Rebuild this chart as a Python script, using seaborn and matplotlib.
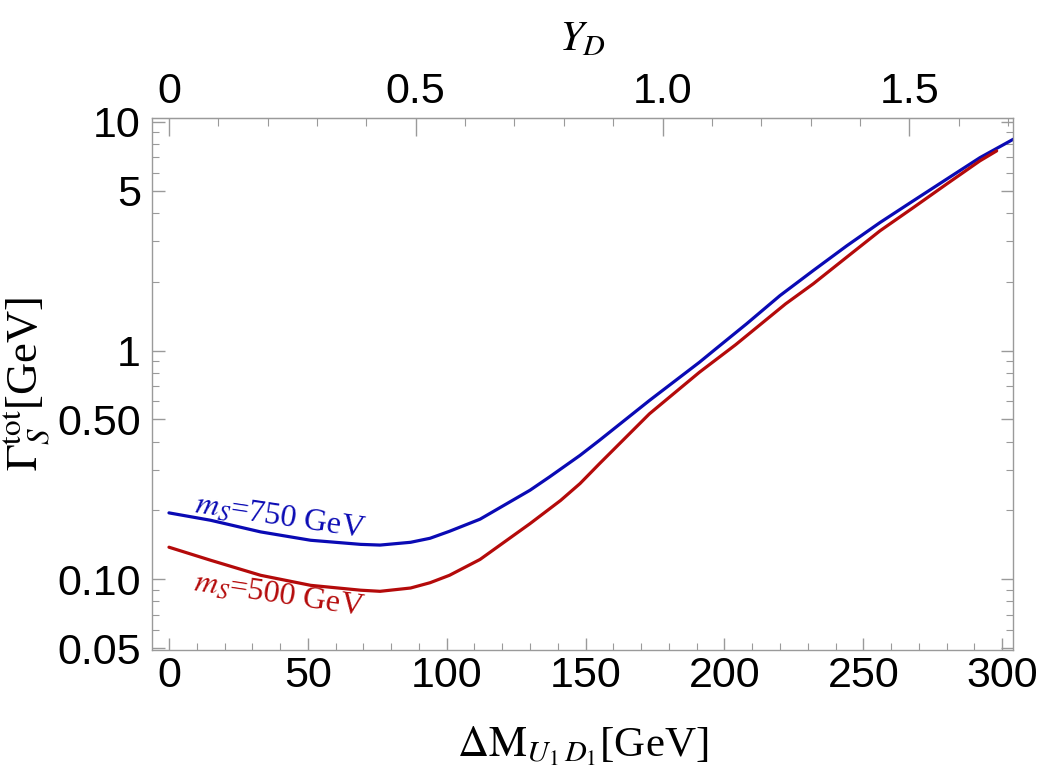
import matplotlib
matplotlib.use("Agg")
import matplotlib.pyplot as plt
import matplotlib.ticker as mticker
import seaborn as sns
import pandas as pd

# Delta M_{U1 D1} [GeV] and total width [GeV]
x_750 = [0, 15, 33, 51, 69, 76, 87, 94, 101, 112, 130, 137, 148, 155, 173,
         191, 197, 208, 220, 232, 244, 256, 268, 280, 292, 304]
w_750 = [0.195, 0.181, 0.161, 0.148, 0.142, 0.141, 0.145, 0.151, 0.162,
         0.183, 0.245, 0.280, 0.348, 0.405, 0.605, 0.889, 1.02, 1.31, 1.74,
         2.24, 2.87, 3.63, 4.52, 5.62, 6.98, 8.40]

x_500 = [0, 15, 33, 51, 69, 76, 87, 94, 101, 112, 130, 141, 148, 155, 173,
         191, 204, 222, 232, 244, 256, 268, 280, 292, 298]
w_500 = [0.138, 0.121, 0.104, 0.094, 0.0895, 0.0885, 0.0915, 0.0965, 0.104,
         0.122, 0.175, 0.221, 0.262, 0.320, 0.529, 0.804, 1.06, 1.60, 1.96,
         2.56, 3.34, 4.22, 5.35, 6.76, 7.47]

y_ticks = [0.05, 0.1, 0.5, 1, 5, 10]
y_ticklabels = ["0.05", "0.10", "0.50", "1", "5", "10"]
y_minor = [0.06, 0.07, 0.08, 0.09, 0.2, 0.3, 0.4, 0.6, 0.7, 0.8, 0.9,
           2, 3, 4, 6, 7, 8, 9]
x_ticks = [0, 50, 100, 150, 200, 250, 300]
yd_ticks = [0, 0.5, 1.0, 1.5]
yd_ticklabels = ["0", "0.5", "1.0", "1.5"]
yd_per_gev = 1 / 177.7

BLUE = "#0a0ab4"
RED = "#b40a0a"
GRAY = "#9a9a9a"

sns.set_style("ticks")
plt.rcParams["font.family"] = ["Liberation Sans Narrow", "Liberation Sans", "DejaVu Sans"]
plt.rcParams["mathtext.fontset"] = "stix"
plt.rcParams["text.color"] = "black"
plt.rcParams["axes.labelcolor"] = "black"
plt.rcParams["xtick.labelcolor"] = "black"
plt.rcParams["ytick.labelcolor"] = "black"

df = pd.concat([
    pd.DataFrame({"dm": x_750, "width": w_750, "mass": "750"}),
    pd.DataFrame({"dm": x_500, "width": w_500, "mass": "500"}),
])

fig = plt.figure(figsize=(10.42, 7.73), dpi=100)
ax = fig.add_axes([0.1459, 0.1591, 0.8263, 0.6882])

sns.lineplot(data=df, x="dm", y="width", hue="mass",
             palette={"750": BLUE, "500": RED}, linewidth=2.3,
             legend=False, ax=ax, sort=False)

ax.set_yscale("log")
ax.set_xlim(-6.1, 303.9)
ax.set_ylim(0.049, 10.4)

ax.yaxis.set_major_locator(mticker.FixedLocator(y_ticks))
ax.yaxis.set_major_formatter(mticker.FixedFormatter(y_ticklabels))
ax.yaxis.set_minor_locator(mticker.FixedLocator(y_minor))
ax.yaxis.set_minor_formatter(mticker.NullFormatter())
ax.set_xticks(x_ticks)
ax.xaxis.set_minor_locator(mticker.MultipleLocator(10))

ax.tick_params(which="both", direction="in", color=GRAY, top=False,
               right=True, labelsize=31, labelcolor="black")
ax.tick_params(which="major", length=9, width=1)
ax.tick_params(axis="y", which="major", pad=8)
ax.tick_params(axis="x", which="major", pad=4)
ax.tick_params(which="minor", length=5, width=0.8)
for sp in ax.spines.values():
    sp.set_visible(True)
    sp.set_color(GRAY)
    sp.set_linewidth(1.0)

serif = ["Liberation Serif", "DejaVu Serif"]
ax.set_xlabel(r"$\Delta \mathrm{M}_{U_1\,D_1}$[GeV]", fontsize=31,
              family=serif, labelpad=21)
ax.set_ylabel(r"$\Gamma_S^{\mathrm{tot}}$[GeV]", fontsize=32,
              family=serif, labelpad=4)

top = ax.secondary_xaxis("top", functions=(lambda v: v * yd_per_gev,
                                           lambda v: v / yd_per_gev))
top.set_xticks(yd_ticks)
top.set_xticklabels(yd_ticklabels)
top.xaxis.set_minor_locator(mticker.MultipleLocator(0.1))
top.tick_params(which="both", direction="in", color=GRAY, labelsize=31,
                labelcolor="black")
top.tick_params(which="major", length=13, width=1, pad=4)
top.tick_params(which="minor", length=6, width=0.8)
top.spines["top"].set_color(GRAY)
top.set_xlabel(r"$Y_D$", fontsize=31, family=serif, labelpad=16)

ax.text(40, 0.187, r"$m_S$=750 GeV", color=BLUE, fontsize=23,
        family=serif, rotation=-8.5, ha="center", va="center")
ax.text(39.6, 0.085, r"$m_S$=500 GeV", color=RED, fontsize=23,
        family=serif, rotation=-8.5, ha="center", va="center")

fig.savefig("out.png", dpi=100)
